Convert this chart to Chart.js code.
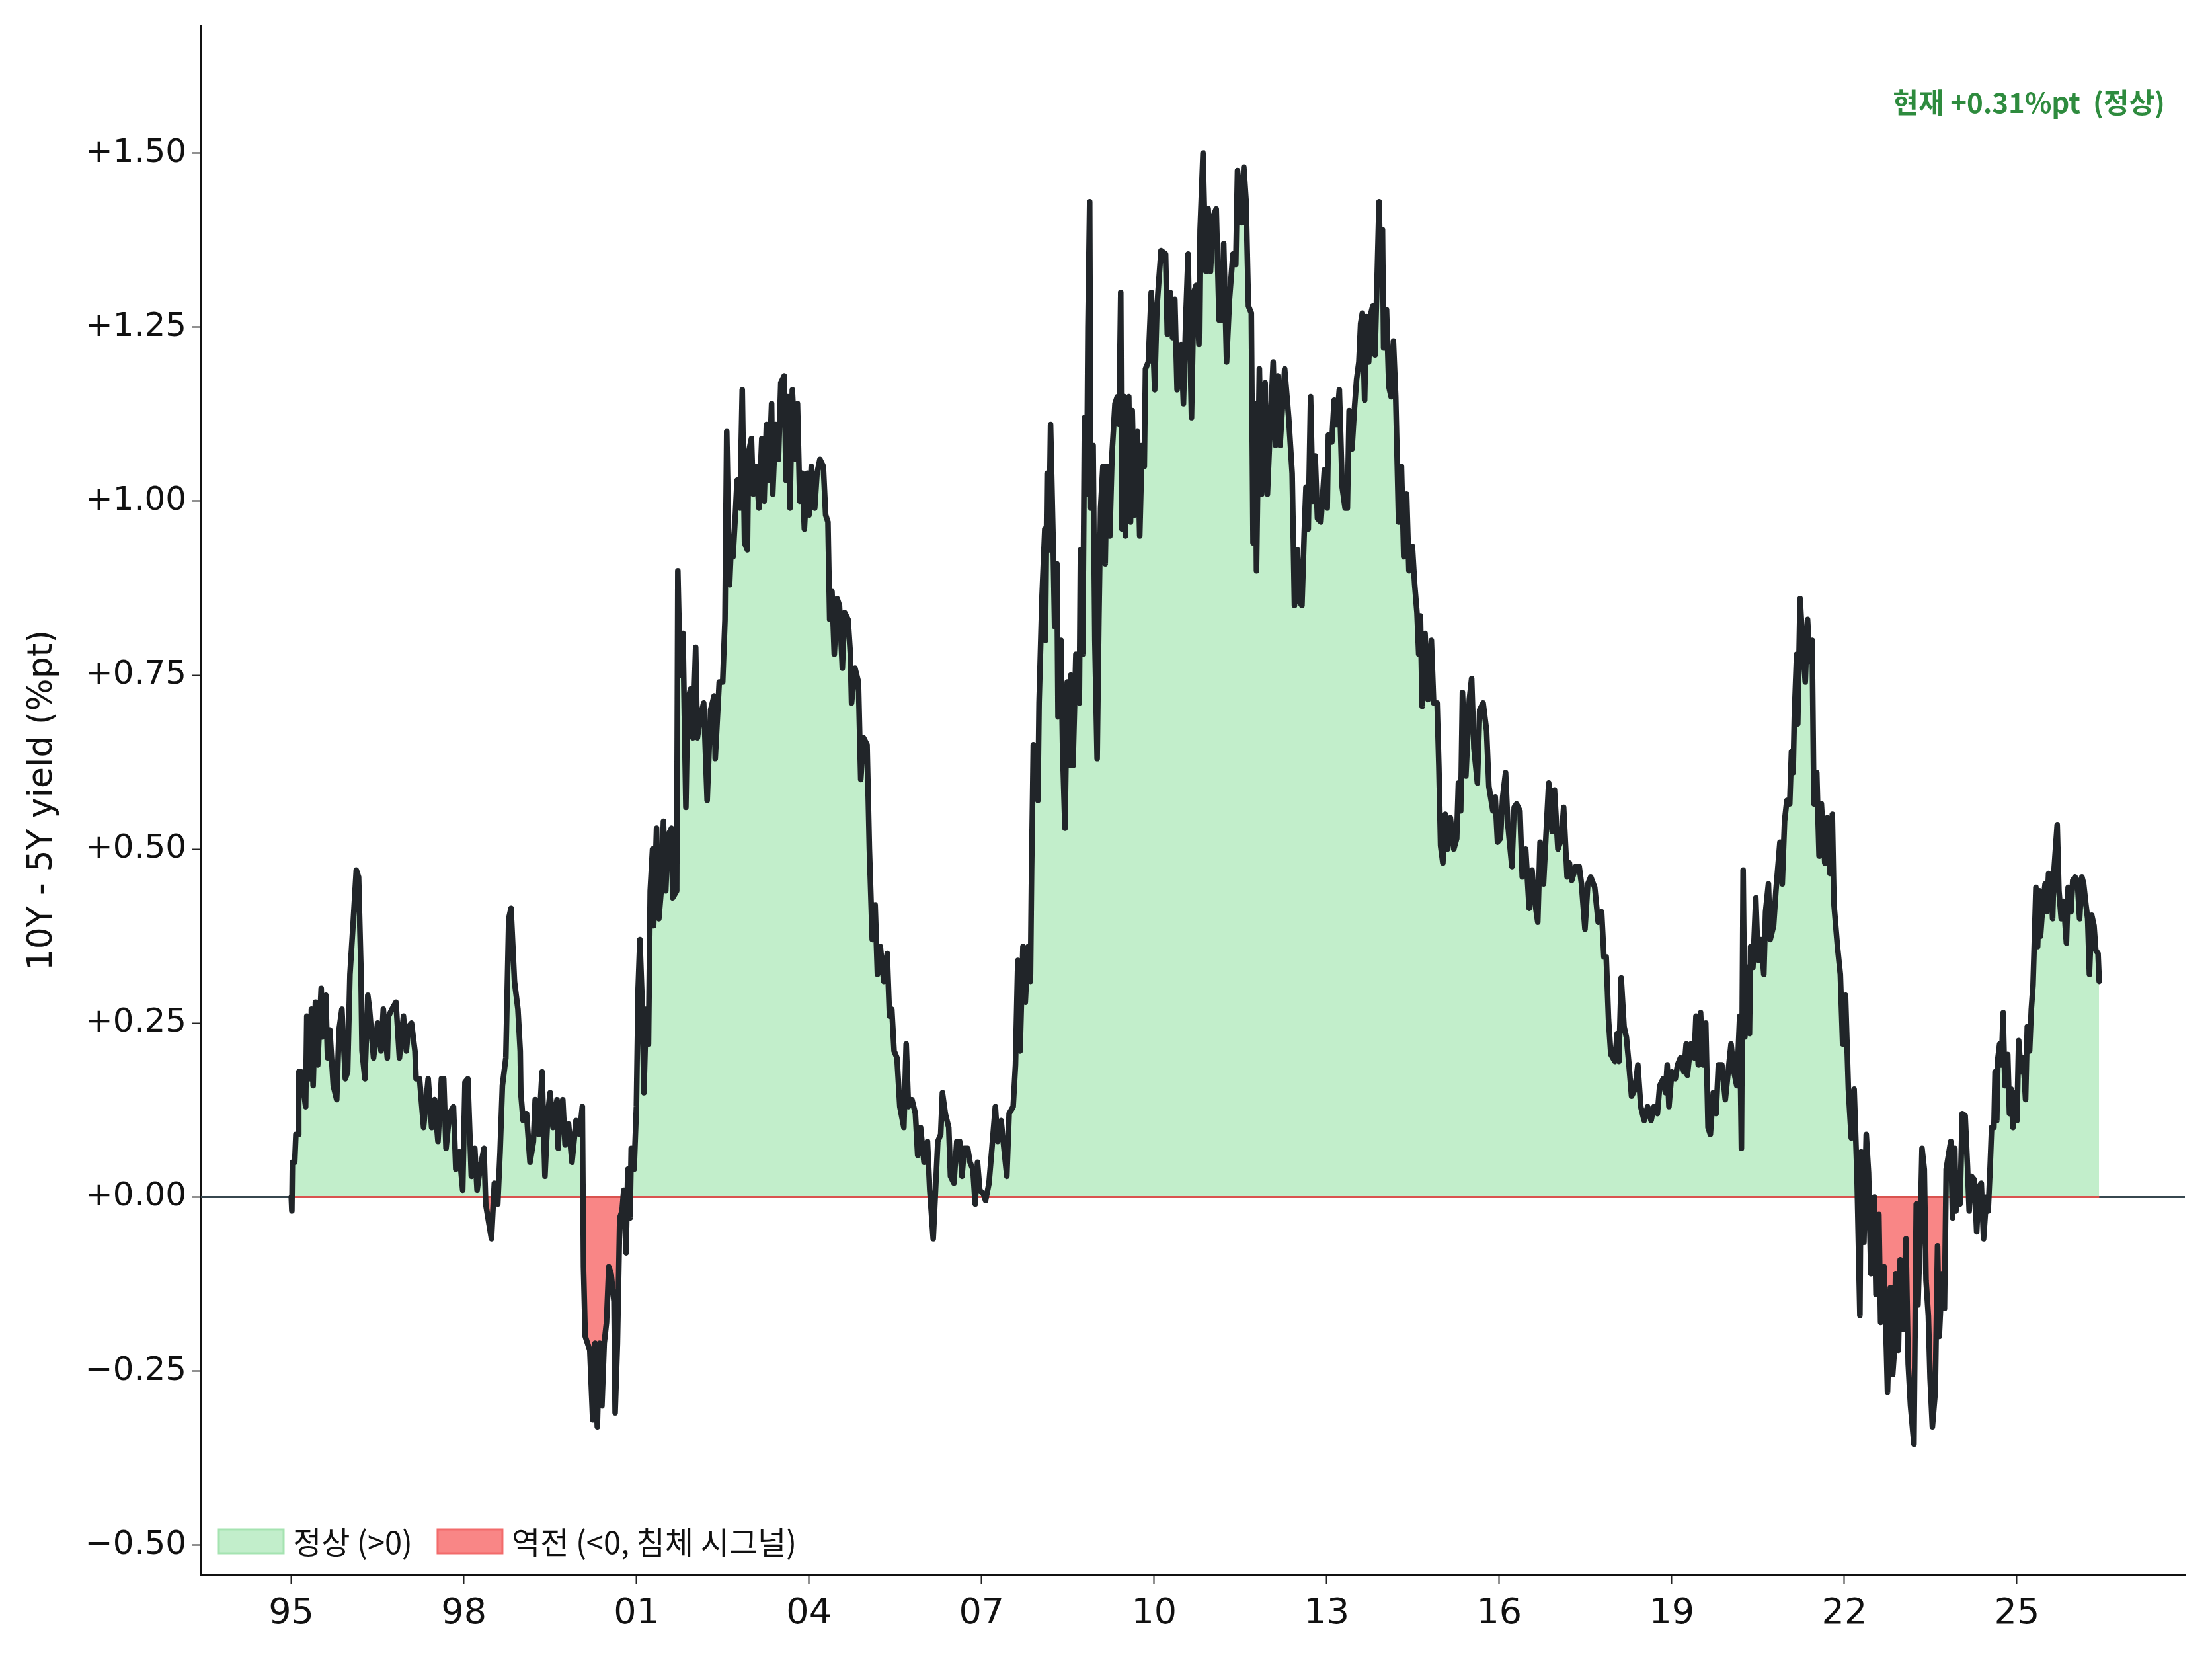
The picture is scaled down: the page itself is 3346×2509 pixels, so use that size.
<!DOCTYPE html>
<html>
<head>
<meta charset="utf-8">
<script src="https://cdn.jsdelivr.net/npm/chart.js@4.4.1/dist/chart.umd.min.js"></script>
<style>
  html, body { margin: 0; padding: 0; background: #fff; }
  #wrap { width: 3346px; height: 2509px; position: relative; }
</style>
</head>
<body>
<div id="wrap"><canvas id="myChart"></canvas></div>
<script>
// 10Y - 5Y spread, [decimal year, %pt]
const seg1995 = [
  [1995.00,0.00],[1995.01,-0.02],[1995.02,0.05],[1995.06,0.05],[1995.08,0.09],[1995.12,0.09],[1995.13,0.18],[1995.17,0.18],
  [1995.25,0.13],[1995.27,0.26],[1995.33,0.17],[1995.35,0.27],[1995.38,0.16],[1995.42,0.28],[1995.46,0.19],[1995.52,0.30],
  [1995.54,0.23],[1995.60,0.29],[1995.63,0.20],[1995.67,0.24],[1995.73,0.16],[1995.79,0.14],[1995.83,0.24],[1995.88,0.27],
  [1995.94,0.17],[1995.98,0.18],
  [1996.02,0.32],[1996.08,0.40],[1996.13,0.47],[1996.17,0.46],[1996.21,0.33],[1996.23,0.21],[1996.28,0.17],[1996.33,0.29],
  [1996.36,0.27],[1996.43,0.20],[1996.50,0.25],[1996.56,0.21],[1996.60,0.27],[1996.67,0.20],[1996.69,0.26],[1996.75,0.27],
  [1996.82,0.28],[1996.88,0.20],[1996.95,0.26],
  [1997.00,0.21],[1997.04,0.245],[1997.09,0.25],[1997.15,0.21],[1997.17,0.17],[1997.23,0.17],[1997.27,0.13],[1997.30,0.10],
  [1997.38,0.17],[1997.44,0.10],[1997.49,0.14],[1997.55,0.08],[1997.61,0.17],[1997.65,0.17],[1997.69,0.07],[1997.75,0.12],
  [1997.82,0.13],[1997.86,0.04],[1997.92,0.065],[1997.98,0.01],
  [1998.02,0.165],[1998.07,0.17],[1998.13,0.03],[1998.19,0.07],[1998.23,0.01],[1998.28,0.04],[1998.35,0.07],[1998.38,-0.01],
  [1998.44,-0.04],[1998.48,-0.06],[1998.53,0.02],[1998.59,-0.01],[1998.63,0.065],[1998.67,0.16],[1998.73,0.20],[1998.78,0.40],
  [1998.82,0.415],[1998.88,0.31],[1998.94,0.27],[1998.98,0.21],[1998.99,0.15],
  [1999.03,0.11],[1999.09,0.12],[1999.15,0.05],[1999.21,0.08],[1999.24,0.14],[1999.30,0.09],[1999.36,0.18],[1999.41,0.03],
  [1999.46,0.12],[1999.50,0.15],[1999.55,0.10],[1999.62,0.14],[1999.64,0.07],[1999.67,0.12],[1999.72,0.14],[1999.76,0.075],
  [1999.82,0.105],[1999.88,0.05],[1999.95,0.11],[2000.01,0.09],[2000.06,0.13]
];

const seg2000 = [
  [2000.08,-0.10],[2000.11,-0.20],[2000.15,-0.21],[2000.19,-0.22],[2000.24,-0.32],[2000.28,-0.21],[2000.32,-0.33],[2000.36,-0.21],
  [2000.40,-0.30],[2000.44,-0.21],[2000.48,-0.18],[2000.52,-0.10],[2000.56,-0.11],[2000.61,-0.15],[2000.63,-0.31],[2000.67,-0.21],
  [2000.71,-0.03],[2000.75,-0.02],[2000.78,0.01],[2000.82,-0.08],[2000.85,0.04],[2000.89,-0.03],[2000.91,0.07],[2000.96,0.04],
  [2001.00,0.13],[2001.03,0.30],[2001.06,0.37],[2001.10,0.28],[2001.13,0.15],[2001.17,0.27],[2001.21,0.22],[2001.24,0.44],
  [2001.28,0.50],[2001.30,0.39],[2001.35,0.53],[2001.39,0.40],[2001.43,0.44],[2001.47,0.54],[2001.51,0.44],[2001.55,0.52],
  [2001.61,0.53],[2001.63,0.43],[2001.70,0.44],[2001.72,0.90],[2001.76,0.75],[2001.81,0.81],[2001.86,0.56],[2001.89,0.71],
  [2001.94,0.73],[2001.98,0.66],
  [2002.03,0.79],[2002.06,0.66],[2002.11,0.69],[2002.17,0.71],[2002.23,0.57],[2002.29,0.70],[2002.35,0.72],[2002.37,0.63],
  [2002.44,0.74],[2002.50,0.74],[2002.54,0.83],[2002.57,1.10],[2002.62,0.88],[2002.65,0.94],[2002.68,0.92],[2002.72,0.98],
  [2002.75,1.03],[2002.80,0.99],[2002.84,1.16],[2002.88,0.94],[2002.93,0.93],[2002.95,1.07],
  [2003.00,1.09],[2003.03,1.01],[2003.08,1.05],[2003.13,0.99],[2003.18,1.09],[2003.22,1.00],[2003.26,1.11],[2003.30,1.03],
  [2003.35,1.14],[2003.37,1.01],[2003.42,1.11],[2003.47,1.06],[2003.51,1.17],[2003.57,1.18],[2003.60,1.03],[2003.63,1.15],
  [2003.67,0.99],[2003.71,1.16],[2003.77,1.06],[2003.80,1.14],[2003.84,1.00],[2003.88,1.04],[2003.92,0.96],[2003.97,1.04],
  [2004.00,0.98],[2004.04,1.05],[2004.10,0.99],[2004.14,1.04],[2004.19,1.06],[2004.25,1.05],[2004.29,0.98],[2004.33,0.97],
  [2004.36,0.83],[2004.40,0.87],[2004.44,0.78],[2004.49,0.86],[2004.53,0.85],[2004.58,0.76],[2004.62,0.84],[2004.68,0.83],
  [2004.72,0.78],[2004.74,0.71],[2004.80,0.76],[2004.86,0.74],[2004.90,0.60],[2004.95,0.66],
  [2005.01,0.65],[2005.05,0.50],[2005.10,0.37],[2005.15,0.42],[2005.19,0.32],[2005.24,0.36],[2005.30,0.31],[2005.36,0.35],
  [2005.40,0.26],[2005.44,0.27],[2005.48,0.21],[2005.53,0.20],[2005.58,0.13],[2005.65,0.10],[2005.69,0.22],[2005.73,0.13],
  [2005.79,0.14],[2005.85,0.12],[2005.89,0.06],[2005.94,0.10],
  [2006.00,0.05],[2006.06,0.08],[2006.10,0.01],[2006.16,-0.06],[2006.20,0.01],[2006.24,0.08]
];

const seg2006 = [
  [2006.29,0.09],[2006.32,0.15],[2006.37,0.12],[2006.43,0.10],[2006.46,0.03],[2006.52,0.02],[2006.57,0.08],[2006.62,0.08],
  [2006.66,0.03],[2006.70,0.07],[2006.76,0.07],[2006.80,0.05],[2006.85,0.04],[2006.89,-0.01],[2006.93,0.05],[2006.97,0.01],
  [2007.03,0.005],[2007.07,-0.005],[2007.13,0.02],[2007.18,0.07],[2007.24,0.13],[2007.28,0.08],[2007.34,0.11],[2007.39,0.07],
  [2007.44,0.03],[2007.48,0.12],[2007.55,0.13],[2007.59,0.19],[2007.63,0.34],[2007.67,0.21],[2007.72,0.36],[2007.76,0.28],
  [2007.81,0.36],[2007.85,0.31],[2007.87,0.47],[2007.90,0.65],[2007.94,0.63],[2007.98,0.57],
  [2008.00,0.71],[2008.05,0.86],[2008.10,0.96],[2008.11,0.80],[2008.14,1.04],[2008.17,0.93],[2008.20,1.11],[2008.24,0.96],
  [2008.27,0.82],[2008.31,0.91],[2008.33,0.69],[2008.38,0.80],[2008.41,0.64],[2008.45,0.53],[2008.49,0.74],[2008.52,0.62],
  [2008.55,0.75],[2008.59,0.62],[2008.64,0.78],[2008.70,0.71],[2008.72,0.93],[2008.76,0.78],[2008.79,1.12],[2008.83,1.01],
  [2008.85,1.25],[2008.88,1.43],[2008.90,0.99],[2008.94,1.08],[2008.97,0.80],
  [2009.01,0.63],[2009.04,0.83],[2009.07,0.99],[2009.11,1.05],[2009.15,0.91],[2009.18,1.05],[2009.23,0.95],[2009.27,1.07],
  [2009.32,1.14],[2009.36,1.15],[2009.39,1.11],[2009.42,1.30],[2009.44,0.96],[2009.48,1.15],[2009.50,0.95],[2009.54,1.11],
  [2009.56,1.15],[2009.59,0.97],[2009.62,1.13],[2009.66,0.98],[2009.71,1.10],[2009.75,0.95],[2009.79,1.08],[2009.83,1.05],
  [2009.85,1.19],[2009.90,1.20],[2009.95,1.30],
  [2010.01,1.16],[2010.05,1.28],[2010.12,1.36],[2010.20,1.355],[2010.23,1.24],[2010.28,1.30],[2010.32,1.235],[2010.36,1.29],
  [2010.40,1.16],[2010.47,1.225],[2010.51,1.14],[2010.55,1.26],[2010.59,1.355],[2010.65,1.12],[2010.69,1.30],[2010.73,1.31],
  [2010.78,1.225],[2010.80,1.39],[2010.85,1.50],[2010.90,1.33],[2010.94,1.42],[2010.98,1.33],
  [2011.03,1.41],[2011.08,1.42],[2011.13,1.26],[2011.17,1.26],[2011.21,1.37],[2011.26,1.20],[2011.31,1.29],[2011.37,1.355],
  [2011.42,1.34],[2011.45,1.475],[2011.52,1.40],[2011.56,1.48],[2011.60,1.43],[2011.64,1.28],[2011.69,1.27],[2011.72,0.94],
  [2011.76,1.14],[2011.78,0.90],[2011.83,1.19],[2011.87,1.01],[2011.93,1.17],[2011.97,1.01],
  [2012.01,1.09],[2012.07,1.20],[2012.11,1.08],[2012.15,1.18],[2012.19,1.08],[2012.27,1.19],[2012.34,1.12],[2012.40,1.04],
  [2012.44,0.85],[2012.49,0.93]
];

const seg2012 = [
  [2012.53,0.855],[2012.57,0.85],[2012.61,0.955],[2012.64,1.02],[2012.68,0.96],[2012.72,1.15],[2012.76,1.00],[2012.80,1.065],
  [2012.84,0.975],[2012.90,0.97],[2012.96,1.045],
  [2013.01,0.99],[2013.03,1.095],[2013.09,1.085],[2013.13,1.145],[2013.17,1.11],[2013.22,1.16],[2013.27,1.02],[2013.32,0.99],
  [2013.36,0.99],[2013.39,1.13],[2013.44,1.075],[2013.48,1.13],[2013.52,1.175],[2013.56,1.20],[2013.59,1.255],[2013.62,1.27],
  [2013.66,1.145],[2013.69,1.265],[2013.73,1.20],[2013.77,1.27],[2013.80,1.28],[2013.84,1.21],[2013.88,1.33],[2013.91,1.43],
  [2013.94,1.33],[2013.97,1.39],[2013.99,1.22],
  [2014.04,1.275],[2014.08,1.165],[2014.12,1.15],[2014.16,1.23],[2014.20,1.15],[2014.25,0.97],[2014.30,1.05],[2014.34,0.92],
  [2014.39,1.01],[2014.43,0.90],[2014.49,0.935],[2014.53,0.88],[2014.57,0.84],[2014.60,0.78],[2014.63,0.835],[2014.66,0.705],
  [2014.71,0.81],[2014.76,0.715],[2014.82,0.80],[2014.86,0.71],[2014.92,0.71],[2014.95,0.62],[2014.98,0.505],
  [2015.02,0.48],[2015.06,0.55],[2015.10,0.50],[2015.15,0.545],[2015.21,0.50],[2015.26,0.515],[2015.29,0.595],[2015.33,0.555],
  [2015.36,0.725],[2015.42,0.605],[2015.48,0.715],[2015.52,0.745],[2015.56,0.645],[2015.62,0.595],[2015.66,0.70],[2015.72,0.71],
  [2015.78,0.67],[2015.82,0.59],[2015.89,0.555],[2015.93,0.575],[2015.97,0.51],
  [2016.02,0.515],[2016.06,0.575],[2016.11,0.61],[2016.15,0.535],[2016.22,0.475],[2016.26,0.56],[2016.30,0.565],[2016.36,0.555],
  [2016.40,0.46],[2016.46,0.50],[2016.52,0.415],[2016.57,0.47],[2016.61,0.43],[2016.67,0.395],[2016.71,0.51],[2016.77,0.45],
  [2016.81,0.515],[2016.86,0.595],[2016.92,0.525],[2016.96,0.585],
  [2017.02,0.50],[2017.08,0.515],[2017.12,0.56],[2017.18,0.46],[2017.22,0.48],[2017.26,0.455],[2017.33,0.475],[2017.39,0.475],
  [2017.43,0.45],[2017.49,0.385],[2017.54,0.45],[2017.59,0.46],[2017.66,0.445],[2017.72,0.395],[2017.78,0.41],[2017.82,0.345],
  [2017.86,0.345],[2017.90,0.255],[2017.94,0.205],
  [2018.01,0.195],[2018.05,0.235],[2018.08,0.195],[2018.12,0.315],[2018.17,0.245],[2018.21,0.23],[2018.25,0.195],[2018.30,0.145],
  [2018.36,0.155],[2018.41,0.19],[2018.46,0.13],[2018.52,0.11],[2018.58,0.13],[2018.64,0.11],[2018.69,0.13]
];

const seg2018 = [
  [2018.75,0.12],[2018.79,0.16],[2018.85,0.17],[2018.89,0.15],[2018.92,0.19],[2018.95,0.13],
  [2019.00,0.18],[2019.06,0.17],[2019.10,0.19],[2019.15,0.20],[2019.21,0.18],[2019.25,0.22],[2019.27,0.175],[2019.33,0.22],
  [2019.39,0.20],[2019.42,0.26],[2019.46,0.19],[2019.50,0.265],[2019.54,0.19],[2019.59,0.25],[2019.63,0.10],[2019.67,0.09],
  [2019.72,0.15],[2019.77,0.12],[2019.81,0.19],[2019.87,0.19],[2019.93,0.14],[2019.98,0.18],
  [2020.03,0.22],[2020.08,0.18],[2020.13,0.16],[2020.18,0.26],[2020.21,0.07],[2020.24,0.47],[2020.27,0.23],[2020.31,0.33],
  [2020.35,0.235],[2020.37,0.36],[2020.41,0.33],[2020.46,0.43],[2020.50,0.34],[2020.55,0.37],[2020.60,0.32],[2020.63,0.41],
  [2020.68,0.45],[2020.71,0.37],[2020.77,0.39],[2020.81,0.44],[2020.84,0.47],[2020.88,0.51],[2020.92,0.45],[2020.96,0.54],
  [2021.00,0.57],[2021.05,0.565],[2021.08,0.64],[2021.11,0.61],[2021.13,0.69],[2021.17,0.78],[2021.19,0.68],[2021.23,0.86],
  [2021.28,0.79],[2021.32,0.74],[2021.36,0.83],[2021.40,0.77],[2021.44,0.80],[2021.47,0.565],[2021.52,0.61],[2021.56,0.49],
  [2021.60,0.565],[2021.66,0.48],[2021.70,0.545],[2021.75,0.465],[2021.79,0.55],[2021.82,0.42],[2021.88,0.36],[2021.93,0.32],
  [2021.97,0.22],
  [2022.02,0.29],[2022.07,0.155],[2022.12,0.085],[2022.17,0.155],[2022.22,0.03],[2022.27,-0.17],[2022.29,0.065],[2022.34,-0.065],
  [2022.38,0.09],[2022.42,0.035],[2022.46,-0.11],[2022.52,0.00],[2022.55,-0.14],[2022.60,-0.025],[2022.63,-0.18],[2022.69,-0.10],
  [2022.73,-0.215],[2022.75,-0.28],[2022.80,-0.13],[2022.84,-0.255]
];

const seg2023 = [
  [2022.87,-0.22],[2022.89,-0.11],[2022.94,-0.22],[2022.97,-0.09],
  [2023.02,-0.19],[2023.07,-0.06],[2023.11,-0.24],[2023.15,-0.30],[2023.21,-0.355],[2023.25,-0.01],[2023.28,-0.155],[2023.32,-0.045],
  [2023.35,0.07],[2023.39,0.04],[2023.42,-0.12],[2023.46,-0.17],[2023.49,-0.26],[2023.53,-0.33],[2023.58,-0.28],[2023.62,-0.07],
  [2023.65,-0.20],[2023.70,-0.11],[2023.74,-0.16],[2023.77,0.04],[2023.81,0.06],[2023.85,0.08],[2023.88,-0.03],[2023.92,0.07],
  [2023.94,-0.02],[2023.98,0.035],
  [2024.01,-0.01],[2024.05,0.12],[2024.10,0.117],[2024.14,0.045],[2024.17,-0.02],[2024.21,0.03],[2024.26,0.025],[2024.30,-0.05],
  [2024.34,0.015],[2024.38,0.02],[2024.42,-0.06],[2024.47,0.00],[2024.50,-0.02],[2024.53,0.035],[2024.56,0.10],[2024.60,0.10],
  [2024.62,0.18],[2024.65,0.11],[2024.67,0.20],[2024.70,0.22],[2024.73,0.19],[2024.76,0.265],[2024.79,0.16],[2024.84,0.205],
  [2024.87,0.12],[2024.90,0.155],[2024.93,0.10],[2024.97,0.15],
  [2025.00,0.11],[2025.03,0.225],[2025.07,0.18],[2025.11,0.20],[2025.15,0.14],[2025.18,0.245],[2025.22,0.21],[2025.25,0.27],
  [2025.28,0.305],[2025.30,0.36],[2025.33,0.445],[2025.36,0.36],[2025.39,0.44],[2025.41,0.375],[2025.45,0.42],[2025.49,0.45],
  [2025.52,0.41],[2025.55,0.465],[2025.59,0.46],[2025.62,0.40],[2025.645,0.47],[2025.67,0.50],[2025.70,0.535],[2025.73,0.44],
  [2025.77,0.40],[2025.81,0.425],[2025.86,0.365],[2025.89,0.445],[2025.94,0.41],[2025.97,0.455],
  [2026.01,0.46],[2026.05,0.455],[2026.09,0.40],[2026.13,0.46],[2026.16,0.45],[2026.20,0.42],[2026.23,0.40],[2026.26,0.32],
  [2026.30,0.405],[2026.34,0.39],[2026.37,0.355],[2026.41,0.35],[2026.43,0.31]
];

const xTickYears = [1995, 1998, 2001, 2004, 2007, 2010, 2013, 2016, 2019, 2022, 2025];
const yTicks = [-0.5, -0.25, 0, 0.25, 0.5, 0.75, 1.0, 1.25, 1.5];
const xRange = [1993.43, 2027.92];
const yRange = [-0.543, 1.683];
const legendItems = [
  { label: '정상 (>0)', fill: '#c2eecb', edge: '#a5e3b1' },
  { label: '역전 (<0, 침체 시그널)', fill: '#f98686', edge: '#f26b6b' }
];

const series = [...seg1995, ...seg2000, ...seg2006, ...seg2012, ...seg2018, ...seg2023];
const points = series.map(p => ({ x: p[0], y: p[1] }));
const firstX = series[0][0];
const lastX = series[series.length - 1][0];
const lastVal = series[series.length - 1][1];

const fmtSigned = v => (v < 0 ? '\u2212' : '+') + Math.abs(v).toFixed(2);

// legend (bottom-left of plot) + current value label (top-right)
const cornerText = {
  id: 'cornerText',
  afterDatasetsDraw(chart) {
    const { ctx, chartArea } = chart;
    ctx.save();

    // current value
    const state = lastVal >= 0 ? '정상' : '역전';
    ctx.font = 'bold 42px "Noto Sans CJK KR"';
    ctx.fillStyle = '#2e8b3e';
    ctx.textAlign = 'right';
    ctx.textBaseline = 'middle';
    ctx.fillText('현재 ' + fmtSigned(lastVal) + '%pt  (' + state + ')', chartArea.right - 30, chartArea.top + 116);

    // legend
    ctx.font = '47px "Noto Sans CJK KR"';
    ctx.textAlign = 'left';
    let x = chartArea.left + 27;
    const cy = chartArea.bottom - 51;
    legendItems.forEach(item => {
      ctx.fillStyle = item.fill;
      ctx.strokeStyle = item.edge;
      ctx.lineWidth = 3;
      ctx.fillRect(x, cy - 18, 98, 36);
      ctx.strokeRect(x, cy - 18, 98, 36);
      ctx.fillStyle = '#111';
      ctx.fillText(item.label, x + 112, cy + 1);
      x += 112 + ctx.measureText(item.label).width + 38;
    });
    ctx.restore();
  }
};

Chart.defaults.font.family = '"DejaVu Sans", "Noto Sans CJK KR"';
Chart.defaults.color = '#111';

new Chart(document.getElementById('myChart'), {
  type: 'line',
  data: {
    datasets: [
      {
        // spread line, filled to zero
        data: points,
        borderColor: '#212529',
        borderWidth: 8.5,
        borderJoinStyle: 'round',
        borderCapStyle: 'round',
        pointRadius: 0,
        tension: 0,
        fill: { target: { value: 0 }, above: '#c2eecb', below: '#f98686' },
        order: 0
      },
      {
        // red zero edge over the data span
        data: [{ x: firstX, y: 0 }, { x: lastX, y: 0 }],
        borderColor: '#d9534f',
        borderWidth: 3,
        pointRadius: 0,
        fill: false,
        order: 1
      },
      {
        // zero reference line across the axis
        data: [{ x: xRange[0], y: 0 }, { x: xRange[1], y: 0 }],
        borderColor: '#37474f',
        borderWidth: 3,
        pointRadius: 0,
        fill: false,
        order: 2
      }
    ]
  },
  options: {
    responsive: true,
    maintainAspectRatio: false,
    animation: false,
    devicePixelRatio: 1,
    layout: { padding: { left: 0, right: 41, top: 38, bottom: 0 } },
    plugins: {
      legend: { display: false },
      tooltip: { enabled: false },
      filler: { drawTime: 'beforeDatasetsDraw' }
    },
    scales: {
      x: {
        type: 'linear',
        min: xRange[0],
        max: xRange[1],
        afterBuildTicks: s => { s.ticks = xTickYears.map(v => ({ value: v })); },
        afterFit: s => { s.height = 127; },
        ticks: {
          font: { size: 54 },
          padding: 14,
          maxRotation: 0,
          callback: v => String(v % 100).padStart(2, '0')
        },
        grid: { drawOnChartArea: false, drawTicks: true, tickLength: 13, tickColor: '#222', tickWidth: 2 },
        border: { display: true, color: '#111', width: 3 }
      },
      y: {
        min: yRange[0],
        max: yRange[1],
        afterBuildTicks: s => { s.ticks = yTicks.map(v => ({ value: v })); },
        afterFit: s => { s.width = 304; },
        ticks: {
          font: { size: 50 },
          padding: 9,
          callback: v => fmtSigned(v)
        },
        grid: { drawOnChartArea: false, drawTicks: true, tickLength: 13, tickColor: '#222', tickWidth: 2 },
        border: { display: true, color: '#111', width: 3 },
        title: {
          display: true,
          text: '10Y - 5Y yield (%pt)',
          font: { size: 52 },
          color: '#111',
          padding: { top: 33, bottom: 0 }
        }
      }
    }
  },
  plugins: [cornerText]
});
</script>
</body>
</html>
